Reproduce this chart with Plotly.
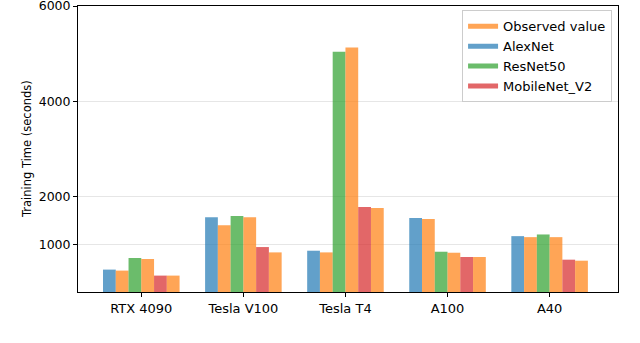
import plotly.graph_objects as go

gpus = ["RTX 4090", "Tesla V100", "Tesla T4", "A100", "A40"]
alexnet = [470, 1569, 866, 1555, 1172]
alexnet_obs = [449, 1402, 831, 1534, 1151]
resnet50 = [714, 1597, 5040, 845, 1207]
resnet50_obs = [693, 1569, 5130, 824, 1151]
mobilenet = [344, 943, 1784, 734, 678]
mobilenet_obs = [344, 831, 1763, 734, 657]
y_ticks = [1000, 2000, 4000, 6000]

blue = "rgba(31,119,180,0.7)"
orange = "rgba(255,127,14,0.7)"
green = "rgba(44,160,44,0.7)"
red = "rgba(214,39,40,0.7)"

fig = go.Figure()
series = [
    ("AlexNet", alexnet, blue),
    ("Observed value", alexnet_obs, orange),
    ("ResNet50", resnet50, green),
    ("Observed value", resnet50_obs, orange),
    ("MobileNet_V2", mobilenet, red),
    ("Observed value", mobilenet_obs, orange),
]
for name, vals, col in series:
    fig.add_trace(go.Bar(
        x=list(range(len(gpus))), y=vals, name=name, showlegend=False,
        marker=dict(color=col, line=dict(width=0)),
    ))

# legend-only entries (wide rectangular swatches like the reference)
legend_entries = [("Observed value", orange), ("AlexNet", blue),
                  ("ResNet50", green), ("MobileNet_V2", red)]
for name, col in legend_entries:
    fig.add_trace(go.Scatter(
        x=[None], y=[None], mode="lines", name=name,
        line=dict(color=col, width=9), hoverinfo="skip",
    ))

fig.update_layout(
    width=640, height=343,
    margin=dict(l=78, r=22, t=6, b=51, autoexpand=False),
    barmode="group", bargap=0.25, bargroupgap=0,
    plot_bgcolor="white", paper_bgcolor="white",
    font=dict(family="DejaVu Sans", size=12.5, color="black"),
    legend=dict(x=0.989, y=0.985, xanchor="right", yanchor="top",
                bordercolor="#cccccc", borderwidth=1, bgcolor="rgba(255,255,255,0.8)",
                font=dict(size=13), tracegroupgap=2, itemsizing="constant",
                itemwidth=30),
    xaxis=dict(
        range=[-0.62, 4.67], tickmode="array", tickvals=list(range(len(gpus))),
        ticktext=gpus, showline=True, linecolor="black", linewidth=1, mirror=True,
        ticks="outside", ticklen=4, tickcolor="black", showgrid=False, zeroline=False,
        tickfont=dict(size=13), automargin=False,
    ),
    yaxis=dict(
        range=[0, 6000.5], tickmode="array", tickvals=y_ticks,
        showline=True, linecolor="black", linewidth=1, mirror=True,
        ticks="outside", ticklen=4, tickcolor="black",
        showgrid=True, gridcolor="#e6e6e6", gridwidth=1, zeroline=False,
        tickfont=dict(size=12.5), automargin=False, ticklabeloverflow="allow",
    ),
    annotations=[dict(
        text="Training Time (seconds)", textangle=-90, showarrow=False,
        xref="paper", yref="paper", x=-0.0944, y=0.5,
        xanchor="center", yanchor="middle", font=dict(size=11.5),
    )],
)

fig.write_html("out.html", post_script="document.body.style.margin='0';",
               config={"displayModeBar": False})
